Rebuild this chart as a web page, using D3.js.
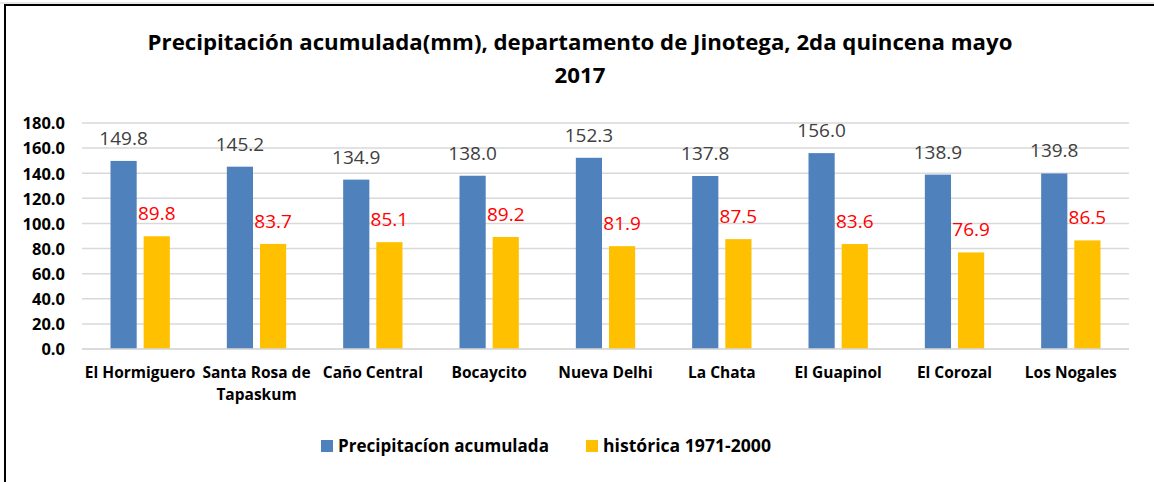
<!DOCTYPE html>
<html>
<head>
<meta charset="utf-8">
<script src="https://cdn.jsdelivr.net/npm/d3@7"></script>
<style>
  html, body { margin: 0; padding: 0; background: #fff; }
  svg { display: block; }
  text { font-family: "Open Sans", Lato, sans-serif; }
</style>
</head>
<body>
<svg id="chart" width="1154" height="482"></svg>
<script>
const categories = ["El Hormiguero", "Santa Rosa de Tapaskum", "Caño Central", "Bocaycito", "Nueva Delhi", "La Chata", "El Guapinol", "El Corozal", "Los Nogales"];
const categoryLines = [["El Hormiguero"], ["Santa Rosa de", "Tapaskum"], ["Caño Central"], ["Bocaycito"], ["Nueva Delhi"], ["La Chata"], ["El Guapinol"], ["El Corozal"], ["Los Nogales"]];
const precipitacion = [149.8, 145.2, 134.9, 138.0, 152.3, 137.8, 156.0, 138.9, 139.8];
const historica = [89.8, 83.7, 85.1, 89.2, 81.9, 87.5, 83.6, 76.9, 86.5];
const seriesNames = ["Precipitacíon acumulada", "histórica 1971-2000"];
const yTicks = [0, 20, 40, 60, 80, 100, 120, 140, 160, 180];
const titleLines = ["Precipitación acumulada(mm), departamento de Jinotega, 2da quincena mayo", "2017"];

const colors = ["#4f81bd", "#ffc000"];
const labelColors = ["#404040", "#ff0000"];

const svg = d3.select("#chart");
const W = 1154, H = 482;
const plot = { left: 82, right: 1129, top: 123, bottom: 349 };

function fitWidth(sel, target) {
  const fs = +sel.attr("font-size");
  const w = sel.node().getComputedTextLength();
  if (w > 0) sel.attr("font-size", (fs * target / w).toFixed(2));
}

// frame
svg.append("rect").attr("x", 0).attr("y", 0).attr("width", W).attr("height", H).attr("fill", "#fff");
svg.append("line").attr("x1", 0).attr("x2", W).attr("y1", 3).attr("y2", 3).attr("stroke", "#d0d0d0").attr("stroke-width", 1);
svg.append("line").attr("x1", 5).attr("x2", W).attr("y1", 5).attr("y2", 5).attr("stroke", "#000").attr("stroke-width", 2);
svg.append("line").attr("x1", 5).attr("x2", 5).attr("y1", 4).attr("y2", H).attr("stroke", "#000").attr("stroke-width", 2);

// title
const t1 = svg.append("text").attr("x", 580).attr("y", 50).attr("text-anchor", "middle")
  .attr("font-size", 21).attr("font-weight", "bold").attr("fill", "#000").text(titleLines[0]);
fitWidth(t1, 865);
svg.append("text").attr("x", 580).attr("y", 83).attr("text-anchor", "middle")
  .attr("font-size", t1.attr("font-size")).attr("font-weight", "bold").attr("fill", "#000").text(titleLines[1]);

const y = d3.scaleLinear().domain([0, 180]).range([plot.bottom, plot.top]);
const x0 = d3.scaleBand().domain(categories).range([plot.left, plot.right]).paddingInner(0.49).paddingOuter(0.245);
const x1 = d3.scaleBand().domain([0, 1]).range([0, x0.bandwidth()]).paddingInner(0.21);

// gridlines
svg.append("g").selectAll("line").data(yTicks).join("line")
  .attr("x1", plot.left).attr("x2", plot.right)
  .attr("y1", d => y(d)).attr("y2", d => y(d))
  .attr("stroke", "#d9d9d9").attr("stroke-width", 1.5);

// y axis labels
const yAxis = d3.axisLeft(y).tickValues(yTicks).tickFormat(d3.format(".1f")).tickSize(0).tickPadding(0);
const gy = svg.append("g").attr("transform", "translate(65,0)").call(yAxis);
gy.select(".domain").remove();
gy.selectAll("text").attr("font-family", "'Open Sans', sans-serif").attr("font-size", 16.5).attr("font-weight", "bold").attr("fill", "#000").attr("dy", "0.35em");

// bars
const seriesData = [precipitacion, historica];
seriesData.forEach((vals, s) => {
  const g = svg.append("g");
  g.selectAll("rect").data(vals).join("rect")
    .attr("x", (d, i) => x0(categories[i]) + x1(s))
    .attr("y", d => y(d))
    .attr("width", x1.bandwidth())
    .attr("height", d => y(0) - y(d))
    .attr("fill", colors[s]);
  g.selectAll("text").data(vals).join("text")
    .attr("x", (d, i) => x0(categories[i]) + x1(s) + x1.bandwidth() / 2)
    .attr("y", d => y(d) - 16)
    .attr("text-anchor", "middle")
    .attr("font-size", 19)
    .attr("fill", labelColors[s])
    .text(d => d.toFixed(1));
});

// redraw baseline over bars
svg.append("line").attr("x1", plot.left).attr("x2", plot.right).attr("y1", y(0)).attr("y2", y(0))
  .attr("stroke", "#d9d9d9").attr("stroke-width", 1.5);

// x labels
const xl = svg.append("g");
categories.forEach((c, i) => {
  const t = xl.append("text").attr("x", x0(c) + x0.bandwidth() / 2).attr("y", 378)
    .attr("text-anchor", "middle").attr("font-size", 15.5).attr("font-weight", "bold").attr("fill", "#000");
  categoryLines[i].forEach((ln, k) => {
    t.append("tspan").attr("x", x0(c) + x0.bandwidth() / 2).attr("dy", k === 0 ? 0 : 22).text(ln);
  });
});

// legend
const legendX = [321, 586];
const legendW = [211, 168];
seriesNames.forEach((n, s) => {
  svg.append("rect").attr("x", legendX[s]).attr("y", 440).attr("width", 12).attr("height", 12).attr("fill", colors[s]);
  const lt = svg.append("text").attr("x", legendX[s] + 17).attr("y", 452).attr("font-size", 18).attr("font-weight", "bold").attr("fill", "#000").text(n);
  fitWidth(lt, legendW[s]);
});
</script>
</body>
</html>
